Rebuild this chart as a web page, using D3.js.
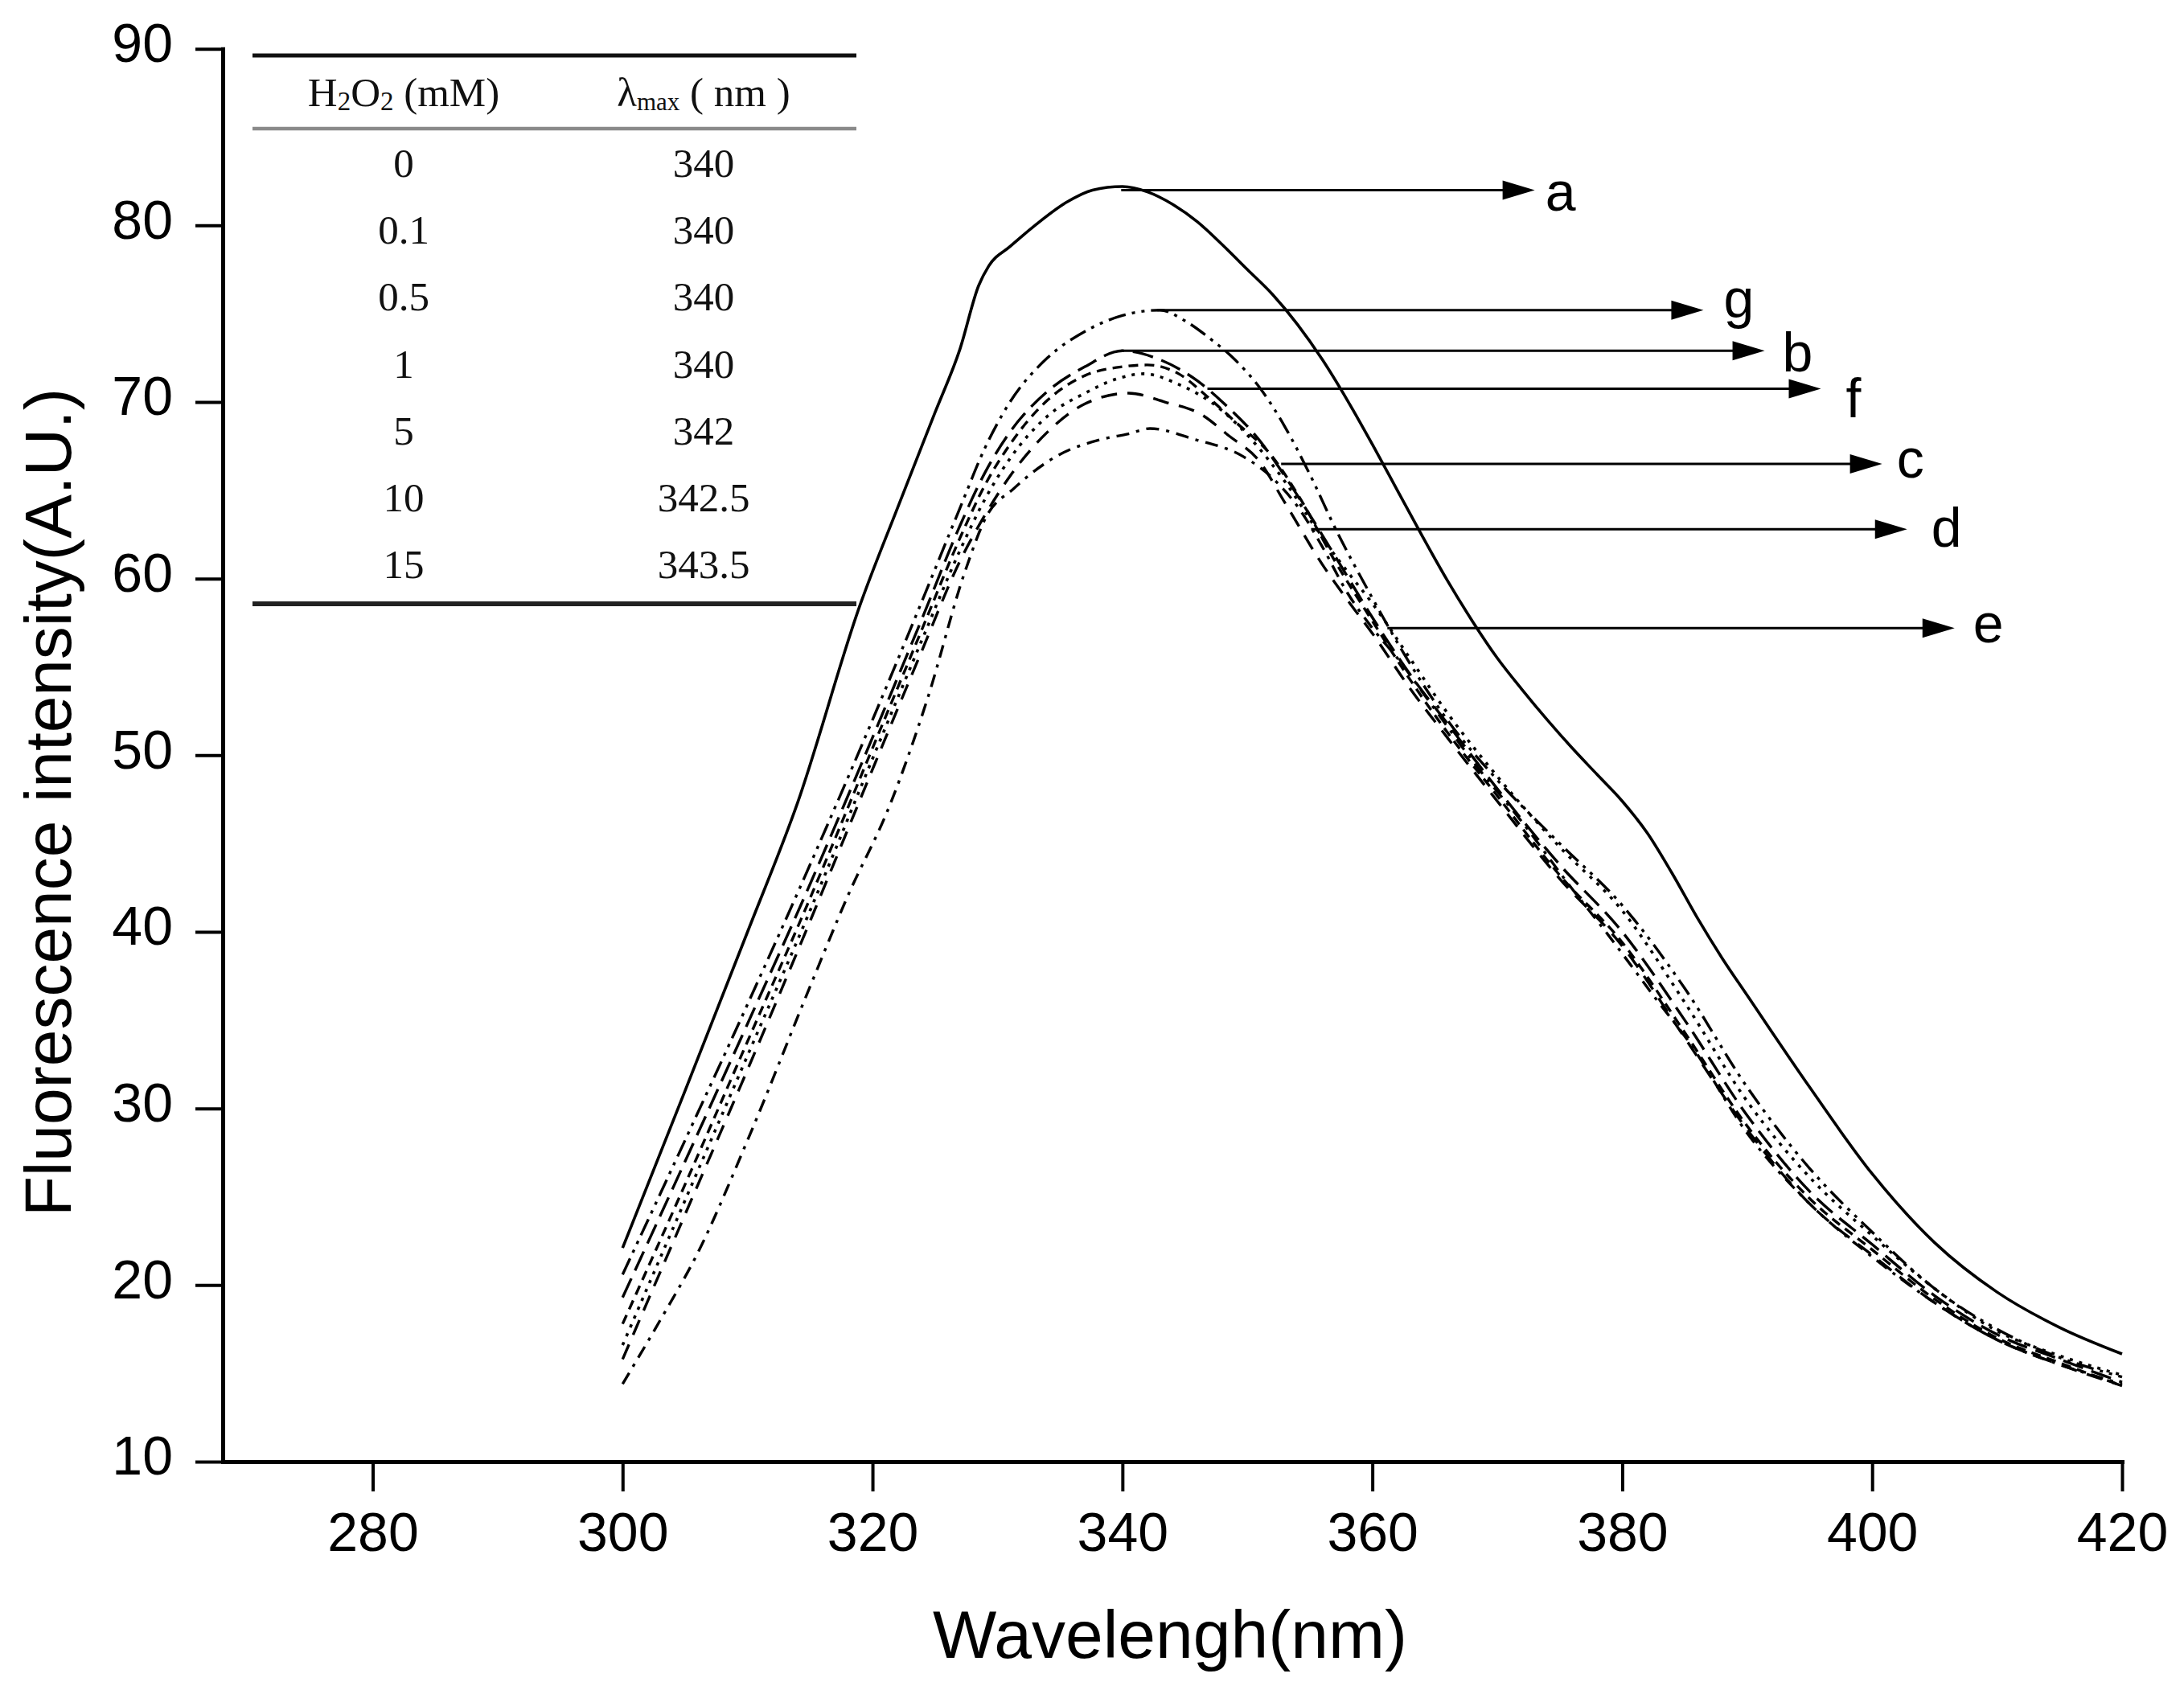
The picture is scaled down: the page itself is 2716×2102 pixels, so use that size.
<!DOCTYPE html>
<html>
<head>
<meta charset="utf-8">
<title>Fluorescence intensity vs wavelength</title>
<script src="https://cdn.jsdelivr.net/npm/d3@7"></script>
<style>
    html, body { margin: 0; padding: 0; background: #fff; }
    svg { display: block; }
</style>
</head>
<body>
<div id="chart"></div>
<script>
/* Emission spectra of the protein under increasing H2O2 (curves a..g),
   with the lambda-max table in the upper left corner. */

var xTicks = [280, 300, 320, 340, 360, 380, 400, 420];
var yTicks = [10, 20, 30, 40, 50, 60, 70, 80, 90];

// [wavelength nm, intensity A.U.]
var curveA = [[300, 22.1], [305, 31.0], [310, 40.0], [314, 47.3], [319, 58.5], [322, 64.0], [325, 69.4],
    [327, 73.0], [328.5, 76.6], [329.3, 77.7], [331, 78.8], [333, 80.0], [335.5, 81.3], [337.6, 82.0],
    [340, 82.2], [342, 81.9], [344, 81.2], [346, 80.2], [348, 78.9], [350, 77.5], [352, 76.1], [354, 74.4],
    [356, 72.4], [358, 70.1], [360, 67.6], [362, 65.0], [364, 62.4], [366, 59.9], [368, 57.6], [370, 55.5],
    [372, 53.7], [374, 52.0], [376, 50.4], [378, 48.9], [380, 47.4], [382, 45.6], [384, 43.3], [386, 40.8],
    [388, 38.5], [390, 36.4], [395, 31.2], [400, 26.3], [405, 22.4], [410, 19.6], [415, 17.6], [420, 16.1]];

var curveG = [[300, 20.6], [305, 28.2], [310, 35.9], [315, 43.8], [320, 52.0], [324, 58.8], [327, 64.0],
    [329, 67.4], [331, 70.0], [334, 72.5], [337, 74.0], [340, 74.9], [343, 75.2], [345, 74.6], [347, 73.6],
    [349, 72.4], [351, 70.8], [353, 68.6], [355, 65.9], [357, 62.9], [360, 58.9], [363, 55.2], [366, 52.0],
    [370, 48.6], [375, 45.0], [380, 41.5], [385, 36.8], [390, 31.2], [395, 26.6], [400, 23.0], [405, 19.8],
    [410, 17.5], [415, 15.9], [420, 14.8]];

var curveB = [[300, 19.3], [305, 27.0], [310, 34.8], [315, 42.7], [320, 51.0], [324, 57.8], [327, 63.0],
    [329, 66.0], [331, 68.3], [334, 70.6], [337, 72.0], [340, 72.9], [343, 72.4], [346, 71.2], [348, 70.0],
    [351, 67.8], [353, 65.8], [355, 63.6], [357, 61.3], [360, 57.8], [363, 54.6], [366, 51.8], [370, 48.1],
    [375, 43.8], [380, 40.0], [385, 35.0], [390, 29.6], [395, 25.3], [400, 22.3], [405, 19.4], [410, 17.2],
    [415, 15.8], [420, 14.5]];

var curveC = [[300, 17.8], [305, 25.7], [310, 33.8], [315, 41.9], [320, 50.4], [324, 57.2], [327, 62.3],
    [329, 65.3], [331, 67.6], [334, 70.1], [337, 71.5], [340, 72.0], [342, 72.1], [344.5, 71.6], [346.8, 70.3],
    [349, 68.9], [352, 66.9], [354, 64.8], [357, 61.0], [360, 57.6], [363, 54.3], [366, 51.3], [370, 47.7],
    [375, 43.2], [380, 39.4], [385, 34.3], [390, 29.0], [395, 24.9], [400, 22.0], [405, 19.2], [410, 17.0],
    [415, 15.6], [420, 14.3]];

var curveD = [[300, 16.6], [305, 24.8], [310, 33.0], [315, 41.2], [320, 49.8], [324, 56.6], [327, 61.6],
    [329, 64.5], [331, 66.8], [334, 69.2], [337, 70.5], [339.5, 71.3], [341.7, 71.6], [344.5, 71.0], [348, 69.5],
    [350.3, 67.9], [353, 65.5], [356, 62.3], [358, 60.4], [360, 58.6], [363, 55.5], [366, 52.4], [370, 48.8],
    [375, 44.8], [380, 41.2], [385, 36.0], [390, 30.4], [395, 26.1], [400, 22.8], [405, 19.8], [410, 17.4],
    [415, 16.0], [420, 14.9]];

var curveE = [[300, 15.8], [305, 24.0], [310, 32.2], [315, 40.6], [320, 49.2], [324, 56.0], [327, 61.0],
    [329, 63.6], [331, 65.8], [334, 68.3], [337, 69.9], [340.5, 70.5], [343.4, 70.0], [346.3, 69.3],
    [348.5, 68.1], [350.9, 66.7], [353, 64.3], [356, 60.8], [358, 58.8], [360, 56.9], [363, 53.8], [366, 51.0],
    [370, 47.4], [375, 43.0], [380, 39.2], [385, 34.0], [390, 28.8], [395, 24.6], [400, 21.7], [405, 19.0],
    [410, 16.9], [415, 15.5], [420, 14.3]];

var curveF = [[300, 14.4], [303, 18.0], [306, 21.8], [310, 28.2], [315, 36.9], [318, 42.0], [321.4, 47.2],
    [324.4, 53.2], [327.4, 60.4], [329.1, 63.5], [331.3, 65.1], [334.9, 67.0], [338.4, 67.9], [340.5, 68.2],
    [342.2, 68.5], [345.7, 67.9], [349.7, 66.9], [352, 65.7], [354.3, 63.8], [356, 61.8], [358, 59.2],
    [360, 57.2], [362, 55.5], [365, 52.6], [368, 49.7], [372, 46.2], [375.7, 42.7], [378.9, 39.8],
    [382.7, 36.2], [385.3, 33.8], [390, 28.6], [395, 24.6], [400, 21.6], [405, 19.0], [410, 16.9],
    [415, 15.5], [420, 14.4]];

// arrow annotations: label, curve point (nm, A.U.) and the nm where the arrow tip sits
var annLabels = ['a', 'g', 'b', 'f', 'c', 'd', 'e'];
var annStartNm = [339.9, 342.8, 339.9, 346.8, 352.7, 355.1, 361.2];
var annLevel = [82.0, 75.2, 72.9, 70.75, 66.5, 62.8, 57.2];
var annTipNm = [373.0, 386.5, 391.4, 395.9, 400.8, 402.8, 406.6];

// inset table
var tableConc = ['0', '0.1', '0.5', '1', '5', '10', '15'];
var tableLambda = ['340', '340', '340', '340', '342', '342.5', '343.5'];

(function () {
    'use strict';

    var W = 2716, H = 2102;
    var SANS = '"Liberation Sans", Arial, sans-serif';
    var SERIF = '"Liberation Serif", "Times New Roman", serif';

    var series = [
        { data: curveA, dash: null, width: 3.6 },
        { data: curveG, dash: '22,8,4,8,4,8', width: 3.4 },
        { data: curveB, dash: '26,11', width: 3.4 },
        { data: curveC, dash: '12,8', width: 3.4 },
        { data: curveD, dash: '4,8', width: 3.6 },
        { data: curveE, dash: '20,13', width: 3.4 },
        { data: curveF, dash: '16,9,4,9', width: 3.4 }
    ];

    // label nudges relative to the arrow tip (px)
    var labelDx = [13, 25, 22, 31, 18, 30, 23];
    var labelDy = [26, 9, 26, 35, 17, 22, 18];

    var svg = d3.select('#chart').append('svg')
        .attr('width', W)
        .attr('height', H)
        .attr('viewBox', [0, 0, W, H]);

    svg.append('rect').attr('width', W).attr('height', H).attr('fill', '#fff');

    var x = d3.scaleLinear().domain([268, 420]).range([277, 2639]);
    var y = d3.scaleLinear().domain([10, 90]).range([1818, 60.7]);

    // ---- curves
    var line = d3.line()
        .x(function (d) { return x(d[0]); })
        .y(function (d) { return y(d[1]); })
        .curve(d3.curveMonotoneX);

    svg.append('g').attr('class', 'curves')
        .selectAll('path').data(series).join('path')
        .attr('d', function (s) { return line(s.data); })
        .attr('fill', 'none')
        .attr('stroke', '#000')
        .attr('stroke-width', function (s) { return s.width; })
        .attr('stroke-linejoin', 'round')
        .attr('stroke-dasharray', function (s) { return s.dash; });

    // ---- axes
    var xAxis = d3.axisBottom(x).tickValues(xTicks).tickSize(37).tickSizeOuter(0).tickPadding(26);
    var yAxis = d3.axisLeft(y).tickValues(yTicks).tickSize(34).tickSizeOuter(0).tickPadding(28);

    var gx = svg.append('g').attr('transform', 'translate(0,' + y(10) + ')').call(xAxis);
    var gy = svg.append('g').attr('transform', 'translate(' + x(268) + ',0)').call(yAxis);

    [gx, gy].forEach(function (g) {
        g.attr('font-family', SANS).attr('font-size', 68);
        g.select('.domain').attr('stroke', '#000').attr('stroke-width', 5).attr('stroke-linecap', 'square');
        g.selectAll('.tick line').attr('stroke', '#000').attr('stroke-width', 4);
        g.selectAll('.tick text').attr('fill', '#000');
    });
    gy.selectAll('.tick text').attr('y', -6);

    svg.append('text')
        .attr('x', 1455)
        .attr('y', 2062)
        .attr('text-anchor', 'middle')
        .attr('font-family', SANS)
        .attr('font-size', 84)
        .text('Wavelengh(nm)');

    svg.append('text')
        .attr('transform', 'translate(88,998) rotate(-90)')
        .attr('text-anchor', 'middle')
        .attr('font-family', SANS)
        .attr('font-size', 82)
        .text('Fluorescence intensity(A.U.)');

    // ---- arrows + letters
    var ann = annLabels.map(function (l, i) {
        return { label: l, x0: x(annStartNm[i]), x1: x(annTipNm[i]), y: y(annLevel[i]), dx: labelDx[i], dy: labelDy[i] };
    });

    var ga = svg.append('g').attr('class', 'arrows');
    ga.selectAll('line').data(ann).join('line')
        .attr('x1', function (d) { return d.x0; })
        .attr('x2', function (d) { return d.x1 - 30; })
        .attr('y1', function (d) { return d.y; })
        .attr('y2', function (d) { return d.y; })
        .attr('stroke', '#000')
        .attr('stroke-width', 3);
    ga.selectAll('path').data(ann).join('path')
        .attr('d', function (d) {
            return 'M' + d.x1 + ',' + d.y + 'L' + (d.x1 - 40) + ',' + (d.y - 12) + 'L' + (d.x1 - 40) + ',' + (d.y + 12) + 'Z';
        })
        .attr('fill', '#000');
    ga.selectAll('text').data(ann).join('text')
        .attr('x', function (d) { return d.x1 + d.dx; })
        .attr('y', function (d) { return d.y + d.dy; })
        .attr('font-family', SANS)
        .attr('font-size', 68)
        .text(function (d) { return d.label; });

    // ---- inset table
    var gt = svg.append('g').attr('class', 'table').attr('font-family', SERIF).attr('fill', '#111');
    var tx0 = 314, tx1 = 1065, col1 = 502, col2 = 875;

    gt.append('line').attr('x1', tx0).attr('x2', tx1).attr('y1', 69).attr('y2', 69)
        .attr('stroke', '#111').attr('stroke-width', 5);
    gt.append('line').attr('x1', tx0).attr('x2', tx1).attr('y1', 160).attr('y2', 160)
        .attr('stroke', '#8a8a8a').attr('stroke-width', 4.5);
    gt.append('line').attr('x1', tx0).attr('x2', tx1).attr('y1', 751).attr('y2', 751)
        .attr('stroke', '#222').attr('stroke-width', 6);

    var h1 = gt.append('text').attr('x', col1).attr('y', 132).attr('text-anchor', 'middle').attr('font-size', 51);
    h1.append('tspan').text('H');
    h1.append('tspan').attr('font-size', 33).attr('dy', 5).text('2');
    h1.append('tspan').attr('dy', -5).text('O');
    h1.append('tspan').attr('font-size', 33).attr('dy', 5).text('2');
    h1.append('tspan').attr('dy', -5).text(' (mM)');

    var h2 = gt.append('text').attr('x', col2).attr('y', 132).attr('text-anchor', 'middle').attr('font-size', 51);
    h2.append('tspan').text('λ');
    h2.append('tspan').attr('font-size', 31).attr('dy', 5).text('max');
    h2.append('tspan').attr('dy', -5).text(' ( nm )');

    var rowY = function (i) { return 220 + i * 83.2; };
    gt.selectAll('text.c1').data(tableConc).join('text').attr('class', 'c1')
        .attr('x', col1).attr('y', function (d, i) { return rowY(i); })
        .attr('text-anchor', 'middle').attr('font-size', 51)
        .text(function (d) { return d; });
    gt.selectAll('text.c2').data(tableLambda).join('text').attr('class', 'c2')
        .attr('x', col2).attr('y', function (d, i) { return rowY(i); })
        .attr('text-anchor', 'middle').attr('font-size', 51)
        .text(function (d) { return d; });
})();
</script>
</body>
</html>
